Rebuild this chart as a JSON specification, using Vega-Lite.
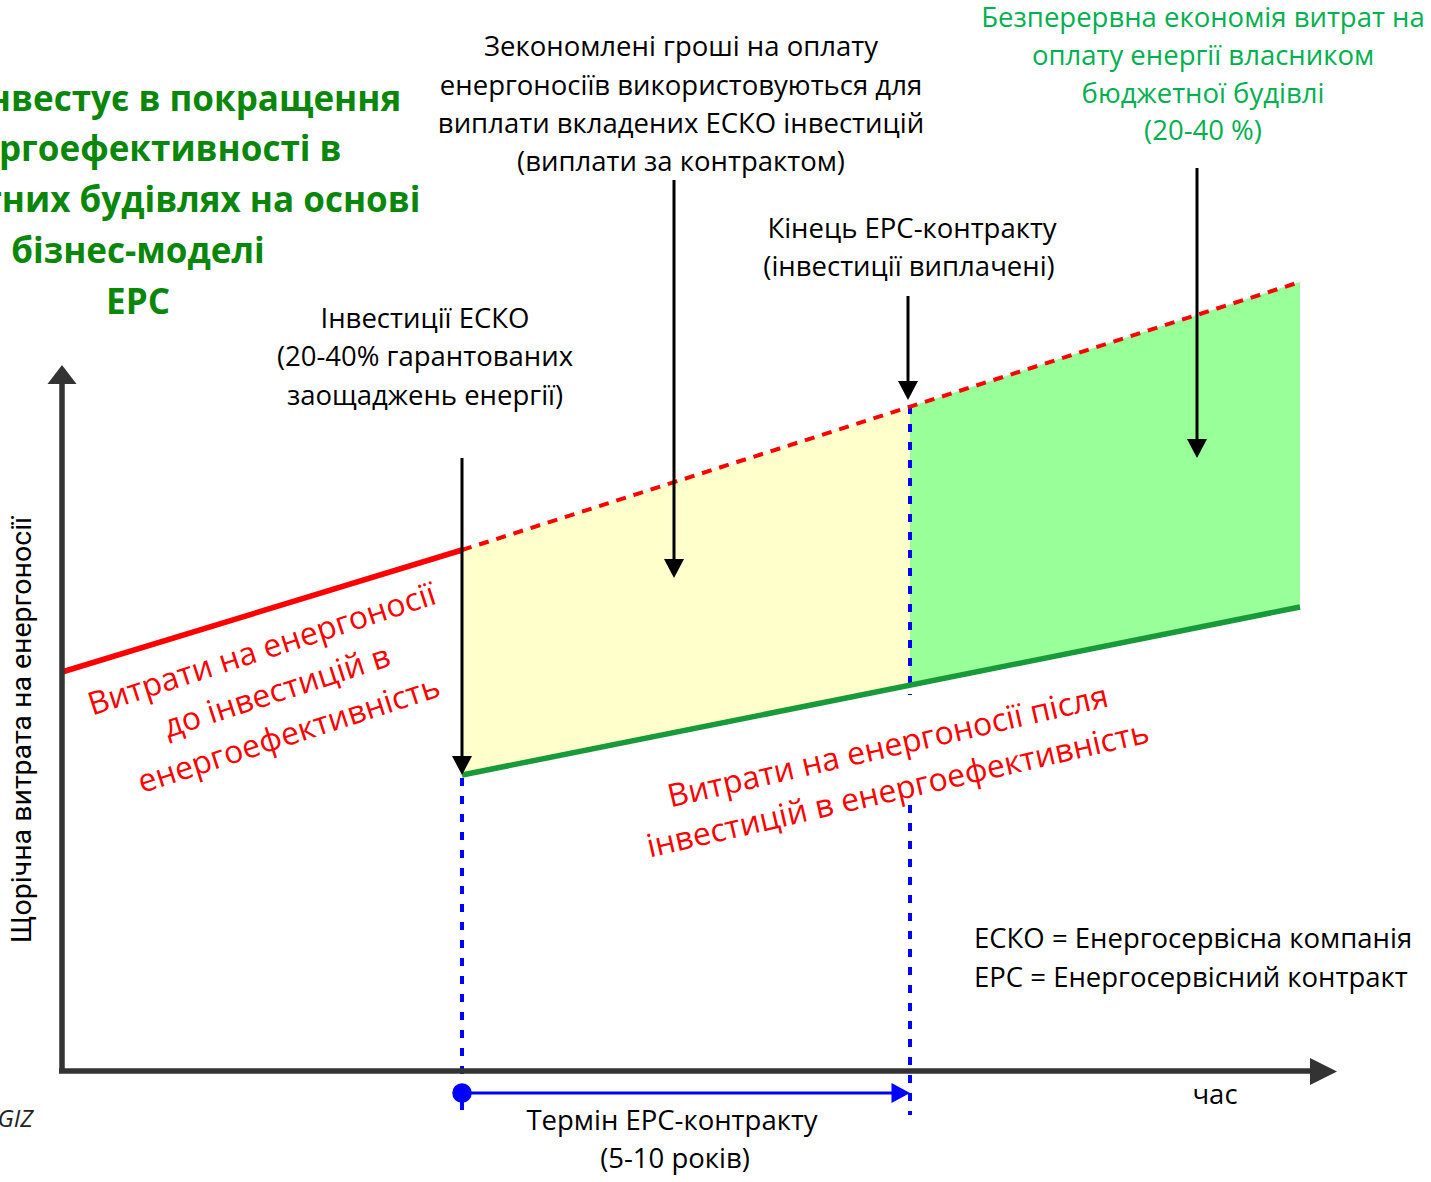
{
  "$schema": "https://vega.github.io/schema/vega-lite/v6.json",
  "width": 1431,
  "height": 1182,
  "autosize": {"type": "none"},
  "padding": 0,
  "background": "white",
  "config": {"view": {"stroke": null}, "font": "Open Sans"},
  "datasets": {
    "fills": [
      {"part": "contract", "t": 462, "v": 632, "v2": 407},
      {"part": "contract", "t": 910, "v": 775.3, "v2": 496.8},
      {"part": "after", "t": 910, "v": 775.3, "v2": 496.8},
      {"part": "after", "t": 1300, "v": 900, "v2": 575}
    ],
    "before": [
      {"t": 62, "v": 510},
      {"t": 462, "v": 632}
    ],
    "projected": [
      {"t": 462, "v": 632},
      {"t": 1300, "v": 900}
    ],
    "after": [
      {"t": 462, "v": 407},
      {"t": 1300, "v": 575}
    ],
    "contractBounds": [
      {"t": 462, "v": 404, "t2": 462, "v2": 67},
      {"t": 910, "v": 776, "t2": 910, "v2": 487},
      {"t": 910, "v": 377, "t2": 910, "v2": 67}
    ],
    "axes": [
      {"t": 62, "v": 109, "t2": 62, "v2": 800},
      {"t": 59, "v": 111, "t2": 1315, "v2": 111}
    ],
    "axisUp": [{"t": 62, "v": 807.5}],
    "axisRight": [{"t": 1323.5, "v": 110.5}],
    "pointers": [
      {"t": 462, "v": 724, "t2": 462, "v2": 418},
      {"t": 674, "v": 1002, "t2": 674, "v2": 614},
      {"t": 908, "v": 886, "t2": 908, "v2": 792},
      {"t": 1197, "v": 1014, "t2": 1197, "v2": 734}
    ],
    "pointerHeads": [
      {"t": 462, "v": 417},
      {"t": 674, "v": 614},
      {"t": 908, "v": 792},
      {"t": 1197, "v": 734}
    ],
    "term": [{"t": 462, "v": 89, "t2": 896, "v2": 89}],
    "termStart": [{"t": 462, "v": 89}],
    "termEnd": [{"t": 900, "v": 89}],
    "notes": [
      {"t": 681, "v": 1134, "label": "Зекономлені гроші на оплату"},
      {"t": 681, "v": 1095, "label": "енергоносіїв використовуються для"},
      {"t": 681, "v": 1057, "label": "виплати вкладених ЕСКО інвестицій"},
      {"t": 681, "v": 1019, "label": "(виплати за контрактом)"},
      {"t": 912, "v": 952, "label": "Кінець EPC-контракту"},
      {"t": 909, "v": 914, "label": "(інвестиції виплачені)"},
      {"t": 425, "v": 862, "label": "Інвестиції ЕСКО"},
      {"t": 425, "v": 824, "label": "(20-40% гарантованих"},
      {"t": 425, "v": 785, "label": "заощаджень енергії)"},
      {"t": 1215, "v": 86, "label": "час"},
      {"t": 672, "v": 60, "label": "Термін EPC-контракту"},
      {"t": 675, "v": 22, "label": "(5-10 років)"}
    ],
    "glossary": [
      {"t": 974, "v": 242, "label": "ЕСКО = Енергосервісна компанія"},
      {"t": 974, "v": 203, "label": "EPC = Енергосервісний контракт"}
    ],
    "savings": [
      {"t": 1203, "v": 1163, "label": "Безперервна економія витрат на"},
      {"t": 1203, "v": 1125, "label": "оплату енергії власником"},
      {"t": 1203, "v": 1087, "label": "бюджетної будівлі"},
      {"t": 1203, "v": 1050, "label": "(20-40 %)"}
    ],
    "headline": [
      {"t": 138, "v": 1082, "label": "ЕСКО інвестує в покращення"},
      {"t": 138, "v": 1032, "label": "енергоефективності в"},
      {"t": 138, "v": 981, "label": "бюджетних будівлях на основі"},
      {"t": 138, "v": 930, "label": "бізнес-моделі"},
      {"t": 138, "v": 879, "label": "EPC"}
    ],
    "beforeLabel": [
      {"t": 262, "v": 532, "label": "Витрати на енергоносії"},
      {"t": 277, "v": 490, "label": "до інвестицій в"},
      {"t": 289, "v": 447, "label": "енергоефективність"}
    ],
    "afterLabel": [
      {"t": 888, "v": 435, "label": "Витрати на енергоносії після"},
      {"t": 898, "v": 392, "label": "інвестицій в енергоефективність"}
    ],
    "yTitle": [{"t": 22, "v": 452, "label": "Щорічна витрата на енергоносії"}],
    "source": [{"t": 33, "v": 62, "label": "GIZ"}]
  },
  "encoding": {
    "x": {"field": "t", "type": "quantitative", "scale": {"domain": [0, 1431], "nice": false, "zero": false}, "axis": null},
    "y": {"field": "v", "type": "quantitative", "scale": {"domain": [0, 1182], "nice": false, "zero": false}, "axis": null}
  },
  "layer": [
    {
      "data": {"name": "fills"},
      "mark": {"type": "area", "opacity": 1},
      "encoding": {
        "y2": {"field": "v2"},
        "color": {"field": "part", "type": "nominal", "scale": {"domain": ["contract", "after"], "range": ["#ffffcc", "#99ff99"]}, "legend": null}
      }
    },
    {
      "data": {"name": "contractBounds"},
      "mark": {"type": "rule", "color": "#0000ff", "strokeWidth": 4, "strokeDash": [8, 10]},
      "encoding": {"x2": {"field": "t2"}, "y2": {"field": "v2"}}
    },
    {
      "data": {"name": "before"},
      "mark": {"type": "line", "color": "#ff0000", "strokeWidth": 5.5},
      "encoding": {}
    },
    {
      "data": {"name": "projected"},
      "mark": {"type": "line", "color": "#ff0000", "strokeWidth": 4, "strokeDash": [10, 8]},
      "encoding": {}
    },
    {
      "data": {"name": "after"},
      "mark": {"type": "line", "color": "#18993a", "strokeWidth": 5.5},
      "encoding": {}
    },
    {
      "data": {"name": "axes"},
      "mark": {"type": "rule", "color": "#333333", "strokeWidth": 5.5},
      "encoding": {"x2": {"field": "t2"}, "y2": {"field": "v2"}}
    },
    {
      "data": {"name": "axisUp"},
      "mark": {"type": "point", "shape": "M0,-0.66L1,0.66L-1,0.66Z", "size": 841, "filled": true, "color": "#333333", "opacity": 1, "strokeWidth": 0}
    },
    {
      "data": {"name": "axisRight"},
      "mark": {"type": "point", "shape": "M1,0L-1,-1L-1,1Z", "size": 729, "filled": true, "color": "#333333", "opacity": 1, "strokeWidth": 0}
    },
    {
      "data": {"name": "pointers"},
      "mark": {"type": "rule", "color": "#000000", "strokeWidth": 3},
      "encoding": {"x2": {"field": "t2"}, "y2": {"field": "v2"}}
    },
    {
      "data": {"name": "pointerHeads"},
      "mark": {"type": "point", "shape": "M0,1L1,-0.9L-1,-0.9Z", "size": 400, "filled": true, "color": "#000000", "opacity": 1, "strokeWidth": 0}
    },
    {
      "data": {"name": "term"},
      "mark": {"type": "rule", "color": "#0000ff", "strokeWidth": 3},
      "encoding": {"x2": {"field": "t2"}, "y2": {"field": "v2"}}
    },
    {
      "data": {"name": "termStart"},
      "mark": {"type": "point", "shape": "circle", "size": 380, "filled": true, "color": "#0000ff", "opacity": 1, "strokeWidth": 0}
    },
    {
      "data": {"name": "termEnd"},
      "mark": {"type": "point", "shape": "M1,0L-0.85,-1L-0.85,1Z", "size": 400, "filled": true, "color": "#0000ff", "opacity": 1, "strokeWidth": 0}
    },
    {
      "data": {"name": "notes"},
      "mark": {"type": "text", "font": "Open Sans", "fontSize": 27.5, "color": "#000000", "align": "center", "baseline": "middle"},
      "encoding": {"text": {"field": "label"}}
    },
    {
      "data": {"name": "glossary"},
      "mark": {"type": "text", "font": "Open Sans", "fontSize": 27.5, "color": "#000000", "align": "left", "baseline": "middle"},
      "encoding": {"text": {"field": "label"}}
    },
    {
      "data": {"name": "savings"},
      "mark": {"type": "text", "font": "Open Sans", "fontSize": 27.5, "color": "#00b050", "align": "center", "baseline": "middle"},
      "encoding": {"text": {"field": "label"}}
    },
    {
      "data": {"name": "headline"},
      "mark": {"type": "text", "font": "Open Sans", "fontSize": 35, "fontWeight": "bold", "color": "#0a870a", "align": "center", "baseline": "middle"},
      "encoding": {"text": {"field": "label"}}
    },
    {
      "data": {"name": "beforeLabel"},
      "mark": {"type": "text", "font": "Open Sans", "fontSize": 32, "color": "#ff0000", "align": "center", "baseline": "middle", "angle": 342},
      "encoding": {"text": {"field": "label"}}
    },
    {
      "data": {"name": "afterLabel"},
      "mark": {"type": "text", "font": "Open Sans", "fontSize": 32, "color": "#ff0000", "align": "center", "baseline": "middle", "angle": 347},
      "encoding": {"text": {"field": "label"}}
    },
    {
      "data": {"name": "yTitle"},
      "mark": {"type": "text", "font": "Roboto", "fontSize": 28.5, "color": "#000000", "align": "center", "baseline": "middle", "angle": 270},
      "encoding": {"text": {"field": "label"}}
    },
    {
      "data": {"name": "source"},
      "mark": {"type": "text", "font": "Open Sans", "fontSize": 24, "fontStyle": "italic", "color": "#222222", "align": "right", "baseline": "middle"},
      "encoding": {"text": {"field": "label"}}
    }
  ]
}
